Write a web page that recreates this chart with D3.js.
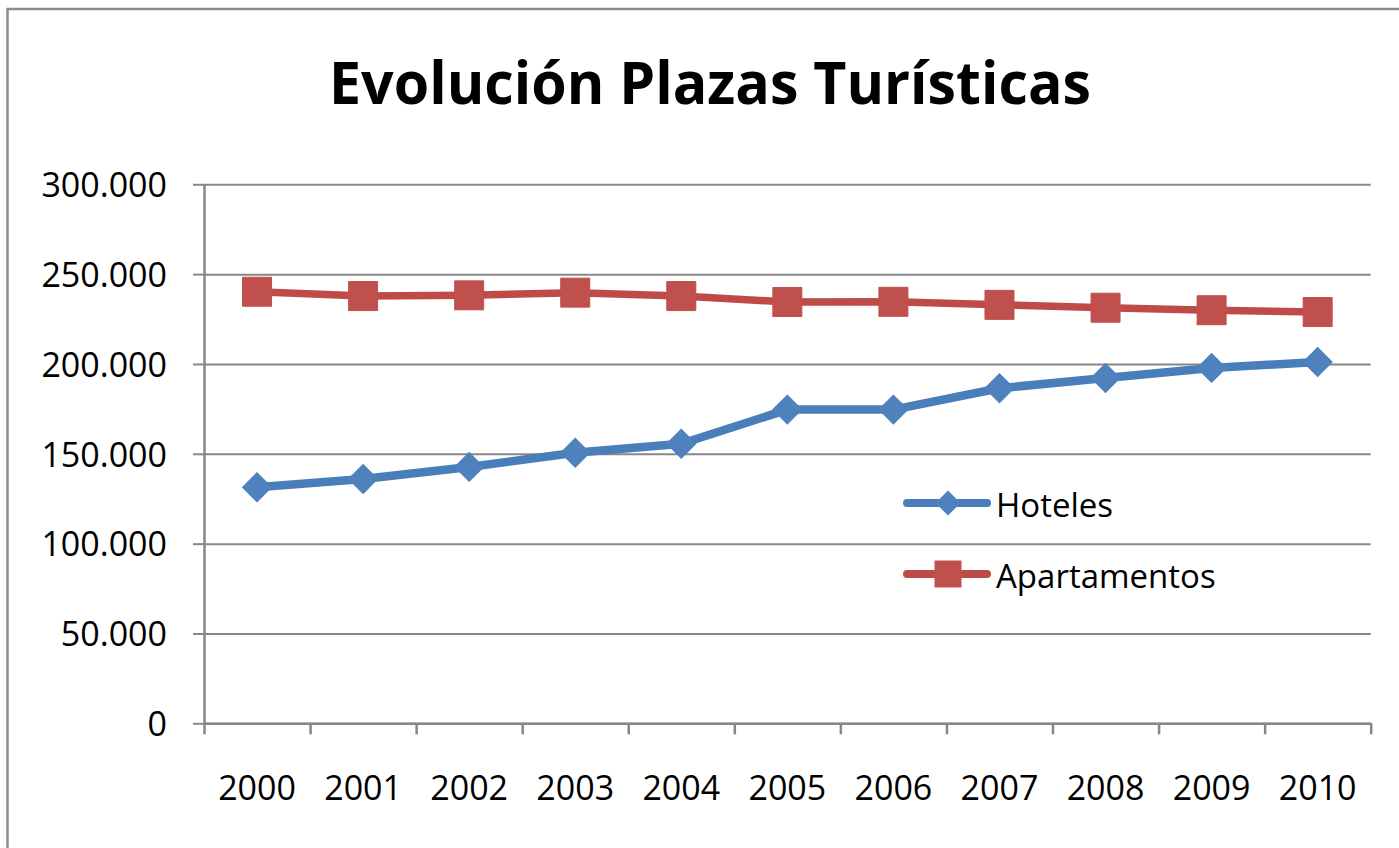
<!DOCTYPE html>
<html>
<head>
<meta charset="utf-8">
<script src="https://cdn.jsdelivr.net/npm/d3@7"></script>
<style>
  body { margin: 0; background: #fff; }
  text { font-family: "Open Sans", "DejaVu Sans", sans-serif; fill: #000; }
</style>
</head>
<body>
<svg id="main" width="1399" height="848"></svg>
<script>
var years = ["2000", "2001", "2002", "2003", "2004", "2005", "2006", "2007", "2008", "2009", "2010"];
var hoteles = [131400, 136000, 142700, 150600, 155600, 174600, 174600, 186500, 192200, 197800, 201100];
var apartamentos = [240200, 237800, 238200, 239700, 237800, 234500, 234600, 232900, 231300, 229900, 228900];
var yTicks = [0, 50000, 100000, 150000, 200000, 250000, 300000];
var seriesNames = ["Hoteles", "Apartamentos"];

var svg = d3.select("#main");
var plotLeft = 204, plotRight = 1370.7, plotTop = 184.3, plotBottom = 723.3;
var gridColor = "#878787";

// outer chart frame (right/bottom edges run off the picture)
svg.append("rect")
    .attr("x", 7.5).attr("y", 9)
    .attr("width", 1420).attr("height", 900)
    .attr("fill", "none")
    .attr("stroke", "#8c8c8c")
    .attr("stroke-width", 2.5);

svg.append("text")
    .attr("x", 710).attr("y", 104)
    .attr("text-anchor", "middle")
    .attr("font-size", 59)
    .attr("font-weight", "bold")
    .attr("textLength", 762)
    .attr("lengthAdjust", "spacingAndGlyphs")
    .text("Evolución Plazas Turísticas");

var xBand = d3.scaleBand().domain(years).range([plotLeft, plotRight]);
var xEdge = d3.scaleLinear().domain([0, years.length]).range([plotLeft, plotRight]);
var yScale = d3.scaleLinear().domain([0, 300000]).range([plotBottom, plotTop]);

var locale = d3.formatLocale({decimal: ",", thousands: ".", grouping: [3], currency: ["", "€"]});
var fmt = locale.format(",d");

// gridlines
svg.append("g")
    .attr("transform", "translate(" + plotLeft + ",0)")
    .call(d3.axisLeft(yScale).tickValues(yTicks).tickSize(-(plotRight - plotLeft)).tickFormat(""))
    .call(function(g) {
        g.select(".domain").remove();
        g.selectAll("line").attr("stroke", gridColor).attr("stroke-width", 2);
    });

// y axis with outside ticks + labels
svg.append("g")
    .attr("transform", "translate(" + plotLeft + ",0)")
    .call(d3.axisLeft(yScale).tickValues(yTicks).tickSizeInner(11).tickSizeOuter(0).tickPadding(26).tickFormat(fmt))
    .call(function(g) {
        g.select(".domain").attr("stroke", gridColor).attr("stroke-width", 2.5);
        g.selectAll("line").attr("stroke", gridColor).attr("stroke-width", 2);
        g.selectAll("text")
            .attr("font-size", 34)
            .attr("font-family", "'Open Sans', sans-serif")
            .attr("fill", "#000")
            .attr("dy", "0.36em");
    });

// x axis: ticks on the category edges
svg.append("g")
    .attr("transform", "translate(0," + plotBottom + ")")
    .call(d3.axisBottom(xEdge).ticks(years.length).tickSizeInner(11).tickSizeOuter(0).tickFormat(""))
    .call(function(g) {
        g.select(".domain").attr("stroke", gridColor).attr("stroke-width", 2.5);
        g.selectAll("line").attr("stroke", gridColor).attr("stroke-width", 2.5);
    });

svg.append("g")
    .attr("transform", "translate(0," + plotBottom + ")")
    .call(d3.axisBottom(xBand).tickSize(0).tickPadding(77))
    .call(function(g) {
        g.select(".domain").remove();
        g.selectAll("text")
            .attr("font-size", 34)
            .attr("font-family", "'Open Sans', sans-serif")
            .attr("fill", "#000")
            .attr("dy", "0");
    });

var xMid = function(i) { return xBand(years[i]) + xBand.bandwidth() / 2; };
var line = d3.line()
    .x(function(d, i) { return xMid(i); })
    .y(function(d) { return yScale(d); });

var diamond = d3.symbol().type(d3.symbolSquare).size(420);
var square = d3.symbol().type(d3.symbolSquare).size(841);

var series = [
    {name: seriesNames[0], values: hoteles, lineColor: "#4a7ebb", fill: "#4f81bd", width: 8.5, sym: diamond, rot: 45},
    {name: seriesNames[1], values: apartamentos, lineColor: "#be4b48", fill: "#c0504d", width: 7.5, sym: square, rot: 0}
];

series.forEach(function(s) {
    svg.append("path")
        .attr("d", line(s.values))
        .attr("fill", "none")
        .attr("stroke", s.lineColor)
        .attr("stroke-width", s.width)
        .attr("stroke-linejoin", "round")
        .attr("stroke-linecap", "round");
    svg.append("g").selectAll("path")
        .data(s.values)
        .join("path")
        .attr("transform", function(d, i) {
            return "translate(" + xMid(i) + "," + yScale(d) + ") rotate(" + s.rot + ")";
        })
        .attr("d", s.sym)
        .attr("fill", s.fill)
        .attr("stroke", s.fill)
        .attr("stroke-width", 1);
});

// legend
var legendY = [503, 574];
series.forEach(function(s, i) {
    var lg = svg.append("g").attr("transform", "translate(907," + legendY[i] + ")");
    lg.append("line")
        .attr("x1", 0).attr("x2", 80)
        .attr("stroke", s.lineColor)
        .attr("stroke-width", 8)
        .attr("stroke-linecap", "round");
    lg.append("path")
        .attr("transform", "translate(41,0) rotate(" + s.rot + ")")
        .attr("d", i === 0 ? d3.symbol().type(d3.symbolSquare).size(312)() : d3.symbol().type(d3.symbolSquare).size(729)())
        .attr("fill", s.fill);
    lg.append("text")
        .attr("x", 89).attr("y", 14)
        .attr("font-size", 33)
        .text(s.name);
});
</script>
</body>
</html>
